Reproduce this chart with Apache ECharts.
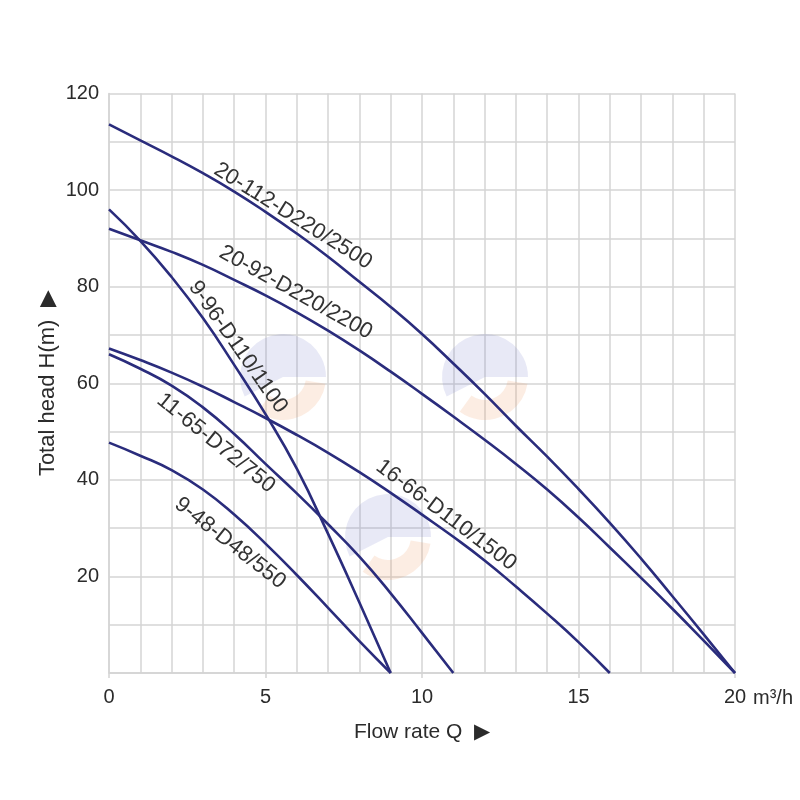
<!DOCTYPE html>
<html>
<head>
<meta charset="utf-8">
<title>Pump curves</title>
<script src="https://cdn.jsdelivr.net/npm/echarts@6/dist/echarts.min.js"></script>
<style>
  html, body { margin: 0; padding: 0; background: #ffffff; }
  #chart { width: 800px; height: 800px; }
</style>
</head>
<body>
<div id="chart"></div>
<script>
// pump models
const models = ['20-112-D220/2500', '20-92-D220/2200', '9-96-D110/1100',
                '16-66-D110/1500', '11-65-D72/750', '9-48-D48/550'];

// flow rate Q (m3/h) read for each curve
const flow20 = [0, 1, 2, 3, 4, 5, 6, 7, 8, 9, 10, 11, 12, 13, 14, 15, 16, 17, 18, 19, 20];
const flow16 = [0, 1, 2, 3, 4, 5, 6, 7, 8, 9, 10, 11, 12, 13, 14, 15, 16];
const flow11 = [0, 1, 2, 3, 4, 5, 6, 7, 8, 9, 10, 11];
const flow9 = [0, 1, 2, 3, 4, 5, 6, 7, 8, 9];

// total head H (m) at those flows
const head2500 = [113.6, 110.3, 107.0, 103.5, 99.7, 95.5, 91.0, 86.2, 81.0, 75.8, 70.2,
                  64.1, 57.8, 51.2, 44.8, 38.1, 31.1, 23.7, 15.9, 8.0, 0];
const head2200 = [92.0, 89.6, 87.2, 84.5, 81.4, 78.2, 74.7, 70.9, 66.8, 62.4, 57.8,
                  53.1, 48.3, 43.3, 38.0, 32.2, 26.0, 19.7, 13.3, 6.7, 0];
const head1100 = [96.0, 89.5, 82.0, 73.5, 63.8, 53.6, 42.3, 28.8, 14.6, 0];
const head1500 = [67.2, 64.8, 62.2, 59.3, 56.1, 52.8, 49.3, 45.6, 41.6, 37.3, 32.8,
                  28.2, 23.3, 17.9, 12.3, 6.4, 0];
const head750 = [66.0, 63.0, 59.5, 55.0, 49.5, 43.3, 37.2, 30.8, 24.1, 16.5, 8.3, 0];
const head550 = [47.7, 45.0, 42.0, 38.0, 32.8, 26.8, 20.3, 13.5, 6.6, 0];

const flows = [flow20, flow20, flow9, flow16, flow11, flow9];
const heads = [head2500, head2200, head1100, head1500, head750, head550];

// where each model name sits on the chart: [Q, H, angle in degrees]
const labelAnchors = [[5.88, 94.6, 32], [5.97, 78.8, 29], [4.12, 67.5, 55],
                      [10.77, 32.7, 37], [3.42, 47.6, 39], [3.87, 26.9, 38]];

const FONT = 'Liberation Sans, Arial, Helvetica, sans-serif';
const LINE_COLOR = '#2a2c7c';
const GRID_COLOR = '#d4d4d4';
const TEXT_COLOR = '#2b2b2b';

const chartDiv = document.getElementById('chart');
const chart = echarts.init(chartDiv, null, { renderer: 'canvas' });

const series = models.map(function (name, i) {
    return {
        name: name,
        type: 'line',
        smooth: 0.5,
        symbol: 'none',
        lineStyle: { color: LINE_COLOR, width: 2.6 },
        data: flows[i].map(function (q, k) { return [q, heads[i][k]]; }),
        z: 5
    };
});

const options = {
    animation: false,
    backgroundColor: '#ffffff',
    textStyle: { fontFamily: FONT },
    grid: { left: 109, right: 65, top: 93.5, bottom: 127, containLabel: false },
    xAxis: [{
        type: 'value',
        min: 0,
        max: 20,
        interval: 1,
        name: 'Flow rate Q  \u25B6',
        nameLocation: 'middle',
        nameGap: 49,
        nameMoveOverlap: false,
        nameTextStyle: { color: TEXT_COLOR, fontSize: 21, fontFamily: FONT },
        axisLine: { show: true, lineStyle: { color: GRID_COLOR, width: 1.5 } },
        axisTick: { show: false },
        axisLabel: { show: false },
        splitLine: { show: true, lineStyle: { color: GRID_COLOR, width: 1.5 } }
    }, {
        type: 'value',
        position: 'bottom',
        min: 0,
        max: 20,
        interval: 5,
        axisLine: { show: false },
        axisTick: { show: true, length: 5, lineStyle: { color: GRID_COLOR, width: 1.5 } },
        axisLabel: { color: TEXT_COLOR, fontSize: 20, fontFamily: FONT, margin: 14 },
        splitLine: { show: false }
    }],
    yAxis: {
        type: 'value',
        min: 0,
        max: 120,
        interval: 10,
        name: 'Total head H(m)  \u25B6',
        nameLocation: 'middle',
        nameGap: 50,
        nameMoveOverlap: false,
        nameTextStyle: { color: TEXT_COLOR, fontSize: 22, fontFamily: FONT },
        axisLine: { show: true, lineStyle: { color: GRID_COLOR, width: 1.5 } },
        axisTick: { show: false },
        axisLabel: {
            color: TEXT_COLOR,
            fontSize: 20,
            fontFamily: FONT,
            margin: 10,
            formatter: function (v) { return (v % 20 === 0 && v > 0) ? String(v) : ''; }
        },
        splitLine: { show: true, lineStyle: { color: GRID_COLOR, width: 1.5 } }
    },
    series: series
};
chart.setOption(options);

/**
 * Faint round logo drawn behind the curves.
 */
function watermark(cx, cy) {
    return {
        type: 'group',
        x: cx,
        y: cy,
        z: 1,
        silent: true,
        children: [{
            type: 'sector',
            shape: { cx: 0, cy: 0, r: 43, r0: 0, startAngle: Math.PI * 0.85, endAngle: Math.PI * 2 },
            style: { fill: 'rgba(120,125,200,0.17)' }
        }, {
            type: 'sector',
            shape: { cx: 0, cy: 0, r: 43, r0: 23, startAngle: Math.PI * 0.05, endAngle: Math.PI * 0.7 },
            style: { fill: 'rgba(240,150,90,0.17)' }
        }]
    };
}

const graphics = [watermark(283, 377), watermark(485, 377), watermark(388, 537)];

labelAnchors.forEach(function (a, i) {
    const p = chart.convertToPixel({ gridIndex: 0 }, [a[0], a[1]]);
    graphics.push({
        type: 'text',
        x: p[0],
        y: p[1],
        rotation: -a[2] * Math.PI / 180,
        z: 6,
        silent: true,
        style: {
            text: models[i],
            fill: '#333333',
            font: '22px ' + FONT,
            align: 'center',
            verticalAlign: 'middle'
        }
    });
});

// unit written after the last x tick
const end = chart.convertToPixel({ gridIndex: 0 }, [20, 0]);
graphics.push({
    type: 'text',
    x: end[0] + 18,
    y: end[1] + 25,
    z: 6,
    style: {
        text: 'm\u00B3/h',
        fill: TEXT_COLOR,
        font: '20px ' + FONT,
        align: 'left',
        verticalAlign: 'middle'
    }
});

chart.setOption({ graphic: graphics });

window.onresize = function () {
    chart.resize();
};
</script>
</body>
</html>
